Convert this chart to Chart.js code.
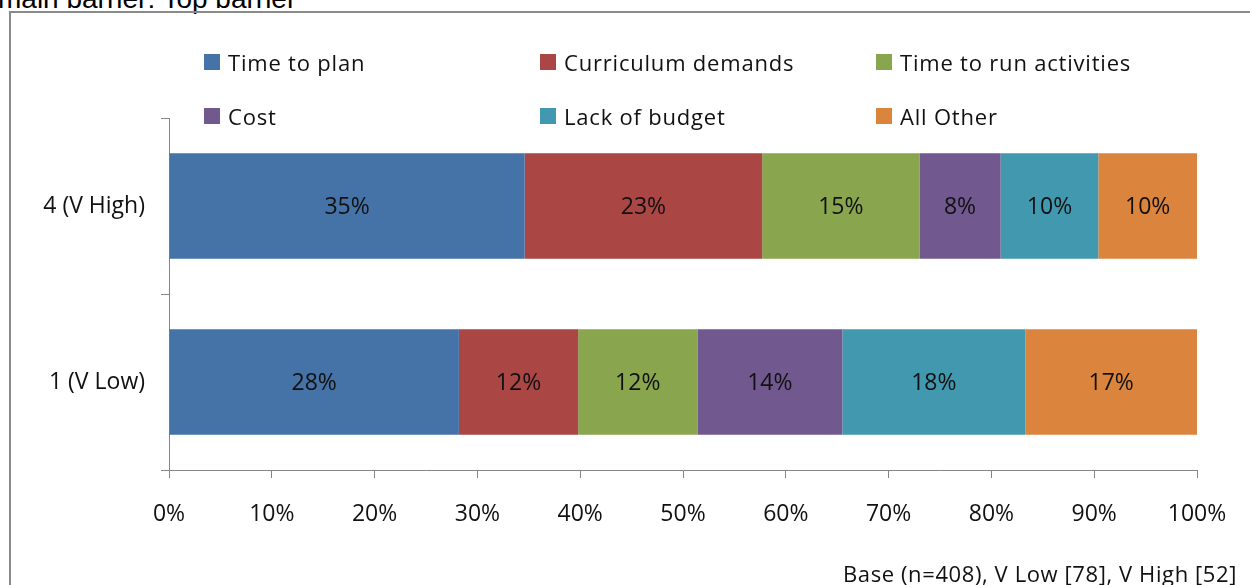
<!DOCTYPE html>
<html>
<head>
<meta charset="utf-8">
<script src="https://cdn.jsdelivr.net/npm/chart.js@4/dist/chart.umd.min.js"></script>
<style>
    body { margin: 0; background: #fff; width: 1250px; height: 585px; overflow: hidden; position: relative; font-family: "Open Sans", sans-serif; }
    #title { position: absolute; left: -2px; top: -15px; font: 28px/28px "Liberation Sans", Arial, sans-serif; color: #000; white-space: nowrap; }
    #frame { position: absolute; left: 9px; top: 11px; width: 1400px; height: 700px; border-top: 2px solid #8a8a8a; border-left: 2px solid #8a8a8a; }
    #wrap { position: absolute; left: 0; top: 0; width: 1250px; height: 585px; }
    #legend { position: absolute; left: 0; top: 0; }
    .item { position: absolute; height: 24px; display: flex; align-items: center; font-size: 22px; letter-spacing: 0.8px; color: #111; white-space: nowrap; }
    .box { width: 16px; height: 16px; margin-right: 8px; }
    #note { position: absolute; right: 13px; top: 558px; font-size: 22px; letter-spacing: 0.6px; color: #111; white-space: nowrap; }
</style>
</head>
<body>
<div id="title">main barrier: Top barrier</div>
<div id="frame"></div>
<div id="wrap"><canvas id="myChart" width="1250" height="585"></canvas></div>
<div id="legend"></div>
<div id="note">Base (n=408), V Low [78], V High [52]</div>
<script>
// categories, top to bottom
const groups = ['4 (V High)', '1 (V Low)'];

// series, values in % per group
const timeToPlan = [34.6, 28.2];
const curriculumDemands = [23.1, 11.6];
const timeToRun = [15.3, 11.6];
const cost = [7.9, 14.1];
const lackOfBudget = [9.5, 17.8];
const allOther = [9.6, 16.7];

const seriesNames = ['Time to plan', 'Curriculum demands', 'Time to run activities', 'Cost', 'Lack of budget', 'All Other'];
const seriesColors = ['#4572A7', '#AA4643', '#89A54E', '#71588F', '#4198AF', '#DB843D'];
const xTicks = [0, 10, 20, 30, 40, 50, 60, 70, 80, 90, 100];

const allSeries = [timeToPlan, curriculumDemands, timeToRun, cost, lackOfBudget, allOther];

// percent labels in the middle of every segment
const barLabels = {
    id: 'barLabels',
    afterDatasetsDraw(chart) {
        const ctx = chart.ctx;
        ctx.save();
        ctx.font = '23px "Open Sans"';
        ctx.fillStyle = '#111';
        ctx.textAlign = 'center';
        ctx.textBaseline = 'middle';
        chart.data.datasets.forEach((ds, i) => {
            chart.getDatasetMeta(i).data.forEach((bar, j) => {
                const p = bar.getCenterPoint();
                ctx.fillText(Math.round(ds.data[j]) + '%', p.x, p.y + 1);
            });
        });
        ctx.restore();
    }
};

// legend in a 3 column grid like the original
const legend = document.getElementById('legend');
seriesNames.forEach((name, i) => {
    const el = document.createElement('div');
    el.className = 'item';
    el.style.left = (204 + (i % 3) * 336) + 'px';
    el.style.top = (50 + Math.floor(i / 3) * 54) + 'px';
    el.innerHTML = '<span class="box" style="background:' + seriesColors[i] + '"></span>' + name;
    legend.appendChild(el);
});

const axisColor = '#868686';
const tickFont = { family: 'Open Sans', size: 23 };

new Chart(document.getElementById('myChart').getContext('2d'), {
    type: 'bar',
    data: {
        labels: groups,
        datasets: allSeries.map((d, i) => ({
            label: seriesNames[i],
            data: d,
            backgroundColor: seriesColors[i],
            borderWidth: 0,
            categoryPercentage: 1,
            barPercentage: 0.6
        }))
    },
    options: {
        indexAxis: 'y',
        responsive: false,
        animation: false,
        layout: { padding: { top: 118, right: 53, left: 0, bottom: 0 } },
        plugins: {
            legend: { display: false },
            tooltip: { enabled: false }
        },
        scales: {
            x: {
                stacked: true,
                min: 0,
                max: 100,
                afterBuildTicks: s => { s.ticks = xTicks.map(v => ({ value: v })); },
                afterFit: s => { s.height = 115; },
                grid: { drawOnChartArea: false, tickLength: 8, color: axisColor },
                border: { color: axisColor },
                ticks: { font: tickFont, color: '#111', padding: 23, callback: v => v + '%' }
            },
            y: {
                stacked: true,
                afterFit: s => { s.width = 169; },
                grid: { drawOnChartArea: false, tickLength: 8, color: axisColor, offset: true },
                border: { color: axisColor },
                ticks: { font: tickFont, color: '#111', padding: 16 }
            }
        }
    },
    plugins: [barLabels]
});
</script>
</body>
</html>
